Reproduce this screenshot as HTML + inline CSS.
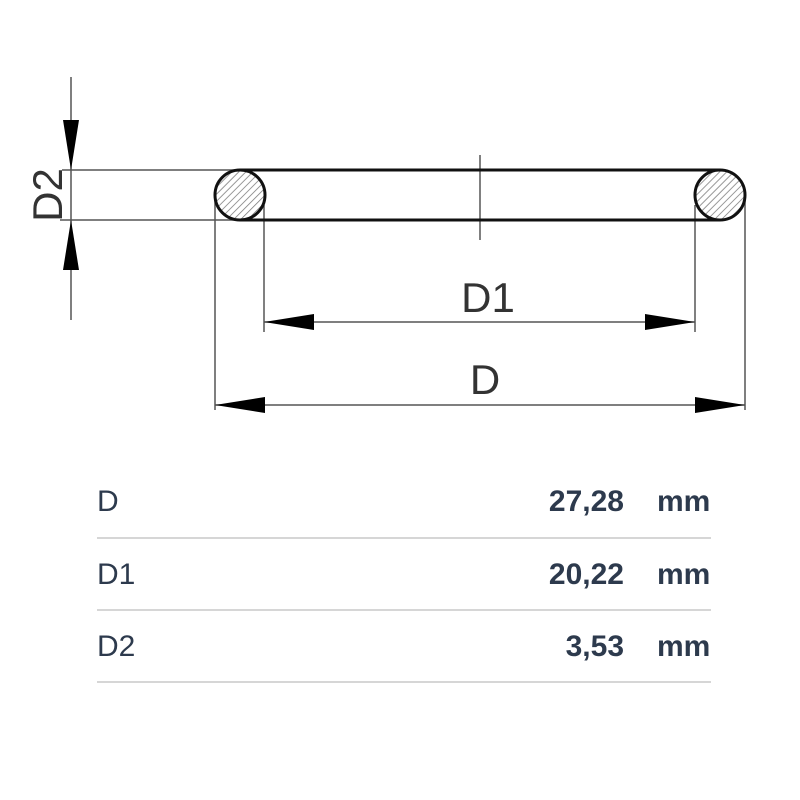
<!DOCTYPE html>
<html><head><style>
body{margin:0;background:#fff;}
.t{position:absolute;font-family:"Liberation Sans",sans-serif;font-size:30px;line-height:34px;color:#2d3a4d;}
</style></head><body>
<div style="position:relative;width:800px;height:800px;overflow:hidden">
<svg width="800" height="800" style="position:absolute;left:0;top:0">
<defs><pattern id="h" width="5" height="5" patternUnits="userSpaceOnUse" patternTransform="rotate(45)"><line x1="0" y1="0" x2="0" y2="5" stroke="#777" stroke-width="1.5"/></pattern></defs>
<g stroke="#555" stroke-width="1.5" fill="none">
<line x1="71" y1="77" x2="71" y2="320"/>
<line x1="62" y1="170" x2="240" y2="170"/>
<line x1="60" y1="220" x2="240" y2="220"/>
<line x1="215" y1="195" x2="215" y2="410"/>
<line x1="264" y1="205" x2="264" y2="332"/>
<line x1="695" y1="205" x2="695" y2="332"/>
<line x1="745" y1="195" x2="745" y2="410"/>
<line x1="480" y1="155" x2="480" y2="240"/>
<line x1="264" y1="322" x2="695" y2="322"/>
<line x1="215" y1="405" x2="745" y2="405"/>
</g>
<g stroke="#111" stroke-width="3">
<line x1="240" y1="170" x2="720" y2="170"/>
<line x1="240" y1="220" x2="720" y2="220"/>
<circle cx="240" cy="195" r="25" fill="url(#h)"/>
<circle cx="720" cy="195" r="25" fill="url(#h)"/>
</g>
<g fill="#000">
<polygon points="63,120 79,120 71,170"/>
<polygon points="63,270 79,270 71,220"/>
<polygon points="264,322 314,314 314,330"/>
<polygon points="695,322 645,314 645,330"/>
<polygon points="215,405 265,397 265,413"/>
<polygon points="745,405 695,397 695,413"/>
</g>
<g font-family="Liberation Sans,sans-serif" font-size="42" fill="#333">
<text x="488" y="312" text-anchor="middle">D1</text>
<text x="485" y="394" text-anchor="middle">D</text>
<text transform="translate(62,195) rotate(-90)" text-anchor="middle">D2</text>
</g>
<g stroke="#d6d6d6" stroke-width="2">
<line x1="97" y1="538" x2="711" y2="538"/>
<line x1="97" y1="610" x2="711" y2="610"/>
<line x1="97" y1="682" x2="711" y2="682"/>
</g>
</svg>
<div class="t" style="left:97px;top:485px">D</div>
<div class="t" style="left:97px;top:558px">D1</div>
<div class="t" style="left:97px;top:630px">D2</div>
<div class="t" style="right:176px;top:485px;font-weight:bold">27,28</div>
<div class="t" style="right:176px;top:558px;font-weight:bold">20,22</div>
<div class="t" style="right:176px;top:630px;font-weight:bold">3,53</div>
<div class="t" style="left:657px;top:485px;font-weight:bold">mm</div>
<div class="t" style="left:657px;top:558px;font-weight:bold">mm</div>
<div class="t" style="left:657px;top:630px;font-weight:bold">mm</div>
</div>
</body></html>
